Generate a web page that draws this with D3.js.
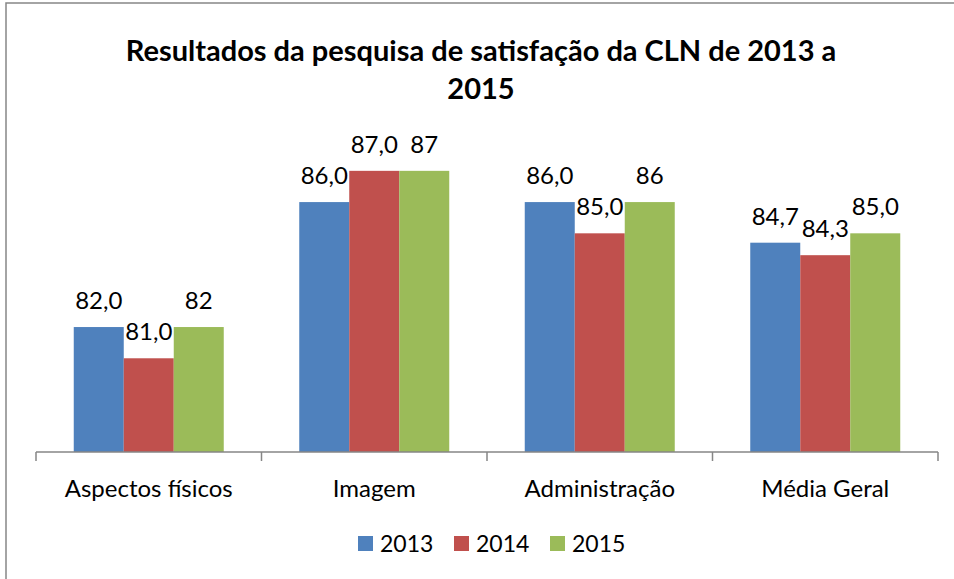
<!DOCTYPE html>
<html>
<head>
<meta charset="utf-8">
<script src="https://cdn.jsdelivr.net/npm/d3@7"></script>
<style>
  body { margin: 0; background: #fff; }
  text { font-family: Lato, "Open Sans", sans-serif; fill: #000; }
</style>
</head>
<body>
<svg id="chart" width="954" height="579"></svg>
<script>
// the data
const categories = ['Aspectos físicos', 'Imagem', 'Administração', 'Média Geral'];
const series = ['2013', '2014', '2015'];
const values2013 = [82.0, 86.0, 86.0, 84.7];
const values2014 = [81.0, 87.0, 85.0, 84.3];
const values2015 = [82, 87, 86, 85.0];
const labels2013 = ['82,0', '86,0', '86,0', '84,7'];
const labels2014 = ['81,0', '87,0', '85,0', '84,3'];
const labels2015 = ['82', '87', '86', '85,0'];
const colors = ['#4F81BD', '#C0504D', '#9BBB59'];

const allValues = [values2013, values2014, values2015];
const allLabels = [labels2013, labels2014, labels2015];

const svg = d3.select('#chart');

// chart frame (only top/left edge visible)
svg.append('rect')
  .attr('x', 6).attr('y', 3)
  .attr('width', 1000).attr('height', 700)
  .attr('fill', 'none')
  .attr('stroke', '#868686')
  .attr('stroke-width', 1.5);

const x0 = d3.scaleBand().domain(categories).range([36, 938]).paddingInner(0).paddingOuter(0);
const x1 = d3.scaleBand().domain(series).range([0, x0.bandwidth()]).paddingInner(0).paddingOuter(0.755);
const y = d3.scaleLinear().domain([78, 88]).range([452, 139.6]);

// bars
const rows = [];
categories.forEach((c, i) => {
  series.forEach((s, j) => {
    rows.push({cat: c, s: s, v: allValues[j][i], label: allLabels[j][i], color: colors[j]});
  });
});

const g = svg.append('g');
g.selectAll('rect.bar')
  .data(rows)
  .enter().append('rect')
  .attr('class', 'bar')
  .attr('x', d => x0(d.cat) + x1(d.s))
  .attr('y', d => y(d.v))
  .attr('width', x1.bandwidth())
  .attr('height', d => y.range()[0] - y(d.v))
  .attr('fill', d => d.color);

// value labels
g.selectAll('text.lbl')
  .data(rows)
  .enter().append('text')
  .attr('class', 'lbl')
  .attr('x', d => x0(d.cat) + x1(d.s) + x1.bandwidth() / 2)
  .attr('y', d => y(d.v) - 18)
  .attr('text-anchor', 'middle')
  .attr('font-size', 24)
  .text(d => d.label);

// category axis
const axis = svg.append('g').attr('transform', `translate(0,${y.range()[0]})`);
axis.append('line')
  .attr('x1', 36).attr('x2', 938)
  .attr('stroke', '#868686').attr('stroke-width', 1.5);
const tickXs = categories.map(c => x0(c)).concat([x0.range()[1]]);
axis.selectAll('line.tick')
  .data(tickXs)
  .enter().append('line')
  .attr('class', 'tick')
  .attr('x1', d => d).attr('x2', d => d)
  .attr('y1', 0).attr('y2', 9)
  .attr('stroke', '#868686').attr('stroke-width', 1.5);
axis.selectAll('text.cat')
  .data(categories)
  .enter().append('text')
  .attr('class', 'cat')
  .attr('x', d => x0(d) + x0.bandwidth() / 2)
  .attr('y', 45)
  .attr('text-anchor', 'middle')
  .attr('font-size', 24)
  .text(d => d);

// title
const title = svg.append('text')
  .attr('text-anchor', 'middle')
  .attr('font-size', 29)
  .attr('font-weight', 'bold');
title.append('tspan').attr('x', 481).attr('y', 61).text('Resultados da pesquisa de satisfação da CLN de 2013 a');
title.append('tspan').attr('x', 481).attr('y', 99).text('2015');

// legend
const legendX = [358, 454, 550];
const legend = svg.append('g');
const items = legend.selectAll('g')
  .data(series)
  .enter().append('g')
  .attr('transform', (d, i) => `translate(${legendX[i]},536)`);
items.append('rect')
  .attr('width', 15).attr('height', 15)
  .attr('fill', (d, i) => colors[i]);
items.append('text')
  .attr('x', 22).attr('y', 16)
  .attr('font-size', 23)
  .text(d => d);
</script>
</body>
</html>
